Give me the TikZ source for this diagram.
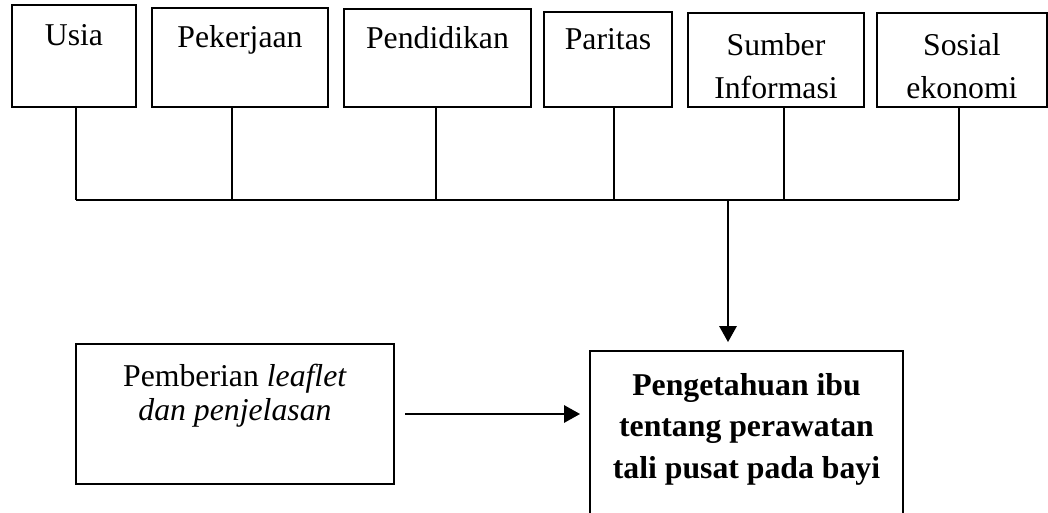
\documentclass[tikz,border=0pt]{standalone}
\usepackage{fontspec}
\setmainfont{Liberation Serif}
\usepackage{tikz}
\usetikzlibrary{arrows.meta,positioning}
\tikzset{
  box/.style  ={draw, align=center, inner sep=2pt, line width=0.75pt, anchor=south,
                font=\fontsize{12}{16.3}\selectfont},
  low/.style  ={draw, align=center, inner sep=2pt, line width=0.75pt,
                font=\fontsize{12}{13.2}\selectfont},
  goal/.style ={draw, align=center, inner sep=2pt, line width=0.75pt,
                font=\fontsize{12}{15.7}\selectfont\bfseries},
  link/.style ={line width=0.75pt},
  arr/.style  ={-{Triangle[length=6pt, width=6.5pt]}, line width=0.75pt},
}

\begin{document}
\begin{tikzpicture}[x=0.378pt, y=-0.378pt]
  \useasboundingbox (0,0) rectangle (1048,513);
  \clip (0,0) rectangle (1048,513);

  % faktor
  \node[box, minimum width=46.9pt, minimum height=38.6pt] (usia)    at (74,108)    {\strut Usia\\[-2.2pt]\strut};
  \node[box, minimum width=66.5pt, minimum height=37.4pt] (kerja)   at (240,108)   {\strut Pekerjaan\\[-2.2pt]\strut};
  \node[box, minimum width=70.7pt, minimum height=37.0pt] (didik)   at (437.5,108) {\strut Pendidikan\\[-2.2pt]\strut};
  \node[box, minimum width=48.4pt, minimum height=35.9pt] (paritas) at (608,108)   {\strut Paritas\\[-2.2pt]\strut};
  \node[box, minimum width=66.5pt, minimum height=35.5pt] (sumber)  at (776,108)   {\rule{0pt}{13.2pt}Sumber\\Informasi};
  \node[box, minimum width=64.3pt, minimum height=35.5pt] (sosek)   at (962,108)   {\rule{0pt}{13.2pt}Sosial\\ekonomi};

  \coordinate (j1) at (76,200);
  \coordinate (j2) at (232,200);
  \coordinate (j3) at (436,200);
  \coordinate (j4) at (614,200);
  \coordinate (j5) at (784,200);
  \coordinate (j6) at (959,200);
  \coordinate (jm) at (728,200);

  \draw[link] (usia.south -| j1) -- (j1);
  \draw[link] (kerja.south -| j2) -- (j2);
  \draw[link] (didik.south -| j3) -- (j3);
  \draw[link] (paritas.south -| j4) -- (j4);
  \draw[link] (sumber.south -| j5) -- (j5);
  \draw[link] (sosek.south -| j6) -- (j6);
  \draw[link] (j1) -- (j6);

  % intervensi dan hasil
  \node[low,  minimum width=120.2pt, minimum height=52.9pt] (leaflet) at (235,414)
    {\strut Pemberian \textit{leaflet}\\\strut\textit{dan penjelasan}\\\strut};
  \node[goal, minimum width=118.3pt, minimum height=74.1pt] (tahu) at (746.5,449)
    {\strut Pengetahuan ibu\\\strut tentang perawatan\\\strut tali pusat pada bayi\\\strut};

  \draw[arr, shorten >=3pt] (jm) -- (jm |- tahu.north);
  \draw[arr, shorten <=3.8pt, shorten >=3.4pt] (leaflet.east) -- (leaflet.east -| tahu.west);
\end{tikzpicture}
\end{document}
